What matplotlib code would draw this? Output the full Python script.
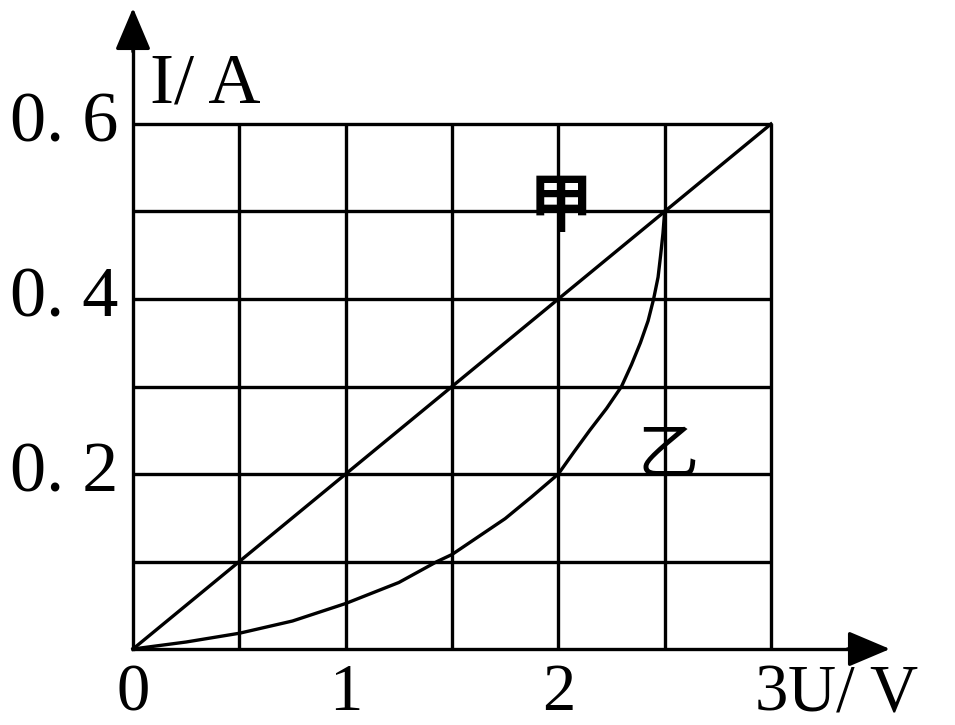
import matplotlib
matplotlib.use("Agg")
import matplotlib.pyplot as plt

# ---- data ----
x_ticks = [0, 1, 2, 3]
x_tick_labels = ["0", "1", "2", "3"]
y_ticks = [0.2, 0.4, 0.6]
y_tick_labels = ["0. 2", "0. 4", "0. 6"]
x_grid = [0.5, 1.0, 1.5, 2.0, 2.5, 3.0]
y_grid = [0.1, 0.2, 0.3, 0.4, 0.5, 0.6]

jia_u = [0, 3]
jia_i = [0, 0.6]

yi_u = [0, 0.25, 0.5, 0.75, 1.0, 1.25, 1.43, 1.5, 1.75, 1.875, 2.0,
        2.073, 2.148, 2.227, 2.297, 2.344, 2.386, 2.422, 2.448, 2.469, 2.481, 2.492, 2.5]
yi_i = [0, 0.008, 0.018, 0.032, 0.052, 0.076, 0.1, 0.108, 0.149, 0.174, 0.2,
        0.225, 0.25, 0.275, 0.3, 0.325, 0.35, 0.375, 0.4, 0.425, 0.45, 0.475, 0.5]

# ---- figure ----
W, H = 955, 725
fig = plt.figure(figsize=(W / 100, H / 100), dpi=100)
ax = fig.add_axes([0, 0, 1, 1])
ax.set_axis_off()

x0px, y0px = 133, 649
sx = (771 - 133) / 3.0
sy = (649 - 124) / 0.6
ax.set_xlim(-x0px / sx, (W - x0px) / sx)
ax.set_ylim(-(H - y0px) / sy, y0px / sy)

lw = 2.4
serif = ["Liberation Serif", "DejaVu Serif"]
cjk = ["Noto Sans CJK SC", "DejaVu Sans"]
fs = 52
fs_bottom = 48

# grid
for gx in x_grid:
    ax.plot([gx, gx], [0, max(y_grid)], color="k", lw=lw, solid_capstyle="butt")
for gy in y_grid:
    ax.plot([0, max(x_grid)], [gy, gy], color="k", lw=lw, solid_capstyle="butt")

# axes with arrows
ytop = (y0px - 8) / sy
xright = (890 - x0px) / sx
ax.plot([0, 0], [0, ytop - 0.02], color="k", lw=lw)
ax.plot([0, xright - 0.1], [0, 0], color="k", lw=lw)
ax.annotate("", xy=(0, ytop), xytext=(0, ytop - 0.05),
            arrowprops=dict(arrowstyle="-|>,head_length=1.3,head_width=0.55",
                            mutation_scale=20, color="k", lw=lw, shrinkA=0, shrinkB=0))
ax.annotate("", xy=(xright, 0), xytext=(xright - 0.2, 0),
            arrowprops=dict(arrowstyle="-|>,head_length=1.3,head_width=0.55",
                            mutation_scale=20, color="k", lw=lw, shrinkA=0, shrinkB=0))

# lines
ax.plot(jia_u, jia_i, color="k", lw=lw)
ax.plot(yi_u, yi_i, color="k", lw=lw, solid_joinstyle="round")

# tick labels
ybot = -(694 - y0px) / sy
for xv, lab in zip(x_ticks, x_tick_labels):
    ax.text(xv, ybot, lab, ha="center", va="center",
            fontsize=fs_bottom, family=serif)
for yv, lab in zip(y_ticks, y_tick_labels):
    ax.text(-(x0px - 118) / sx, yv, lab, ha="right", va="center",
            fontsize=fs, family=serif)

# axis labels
ax.text((150 - x0px) / sx, (y0px - 85) / sy, "I/ A", ha="left", va="center",
        fontsize=fs, family=serif)
ax.text((788 - x0px) / sx, ybot, "U/ V", ha="left", va="center",
        fontsize=fs_bottom, family=serif)

# series labels
ax.text(2.01, 0.505, "甲", ha="center", va="center", fontsize=46, family=cjk,
        fontweight="bold")
ax.text(2.516, 0.222, "乙", ha="center", va="center", fontsize=44, family=cjk)

fig.savefig("out.png", dpi=100)
